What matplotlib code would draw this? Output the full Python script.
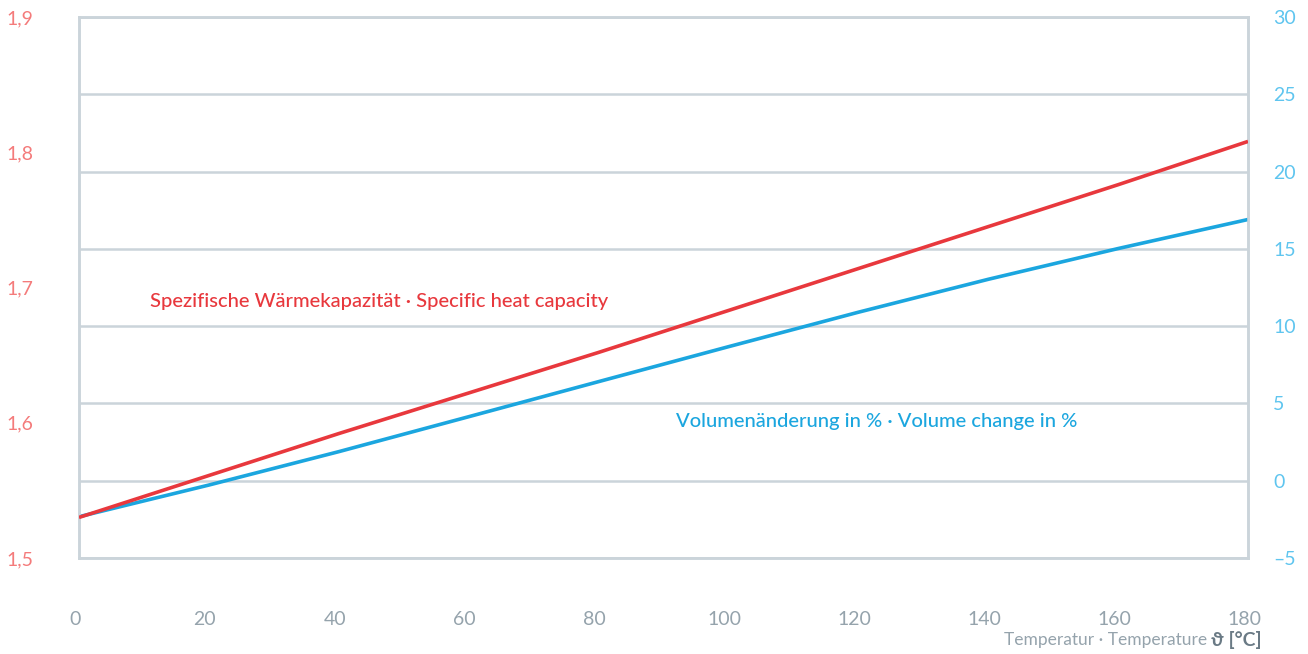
#!/usr/bin/env python3
"""Specific heat capacity and volume change vs. temperature (dual axis)."""

import matplotlib.pyplot as plt
import matplotlib.transforms as mtransforms
from matplotlib.ticker import FuncFormatter

plt.rcParams["font.family"] = ["Lato", "DejaVu Sans"]

# --- data ---
temps = [0, 20, 40, 60, 80, 100, 120, 140, 160, 180]
heat_capacity = [1.530, 1.561, 1.592, 1.622, 1.652, 1.683, 1.714, 1.745, 1.776, 1.808]
volume_change = [-2.33, -0.28, 1.88, 4.14, 6.41, 8.67, 10.90, 13.03, 15.02, 16.90]

x_ticks = [0, 20, 40, 60, 80, 100, 120, 140, 160, 180]
left_ticks = [1.5, 1.6, 1.7, 1.8, 1.9]
right_ticks = [-5, 0, 5, 10, 15, 20, 25, 30]

RED = "#E8383D"
RED_LIGHT = "#F47B7B"
BLUE = "#1BA6DF"
BLUE_LIGHT = "#5FC5EF"
GRID = "#CBD4DA"
GRAY = "#95A3AC"
DARK_GRAY = "#6A7A85"

fig = plt.figure(figsize=(13.08, 6.54), dpi=100)
ax = fig.add_axes([79 / 1308, 1 - 558 / 654, (1248 - 79) / 1308, (558 - 17) / 654])
ax2 = ax.twinx()

# grid lives on the twin axis, red line on the main axis placed on top
ax.set_zorder(ax2.get_zorder() + 1)
ax.patch.set_visible(False)

ax2.plot(temps, volume_change, color=BLUE, lw=2.6, solid_capstyle="butt", zorder=3)
ax.plot(temps, heat_capacity, color=RED, lw=2.6, solid_capstyle="butt", zorder=3)

ax.set_xlim(0, 180)
ax.set_ylim(1.5, 1.9)
ax2.set_ylim(-5, 30)
ax.set_xticks(x_ticks)
ax.set_yticks(left_ticks)
ax2.set_yticks(right_ticks)
ax.yaxis.set_major_formatter(FuncFormatter(lambda v, _: f"{v:.1f}".replace(".", ",")))
ax2.yaxis.set_major_formatter(FuncFormatter(lambda v, _: f"{v:.0f}".replace("-", "–")))

ax2.set_axisbelow(True)
ax2.grid(True, color=GRID, lw=1.8)
ax2.xaxis.grid(True, color=GRID, lw=1.8)
ax2.set_xticks(x_ticks)
for a in (ax, ax2):
    for sp in a.spines.values():
        sp.set_color(GRID)
        sp.set_linewidth(1.8)

ax.tick_params(axis="x", length=0, pad=38, labelsize=14, labelcolor=GRAY)
ax.tick_params(axis="y", length=0, pad=33, labelsize=14, labelcolor=RED_LIGHT)
ax2.tick_params(axis="y", length=0, pad=18, labelsize=14, labelcolor=BLUE_LIGHT)

# x tick labels sit a little left of their grid line
shift = mtransforms.ScaledTranslation(-4 / 100, 0, fig.dpi_scale_trans)
for lab in ax.get_xticklabels():
    lab.set_transform(lab.get_transform() + shift)

ax.text(11, 1.69, "Spezifische Wärmekapazität · Specific heat capacity",
        color=RED, fontsize=14.5, fontweight="medium", va="center", ha="left")
ax2.text(92, 3.8, "Volumenänderung in % · Volume change in %",
         color=BLUE, fontsize=14.5, fontweight="medium", va="center", ha="left")

fig.text(1207 / 1308, 1 - 640 / 654, "Temperatur · Temperature",
         color=GRAY, fontsize=12.5, ha="right", va="center")
fig.text(1262 / 1308, 1 - 640 / 654, "ϑ [°C]",
         color=DARK_GRAY, fontsize=14, fontweight="bold", ha="right", va="center")

fig.savefig("out.png", dpi=100)
